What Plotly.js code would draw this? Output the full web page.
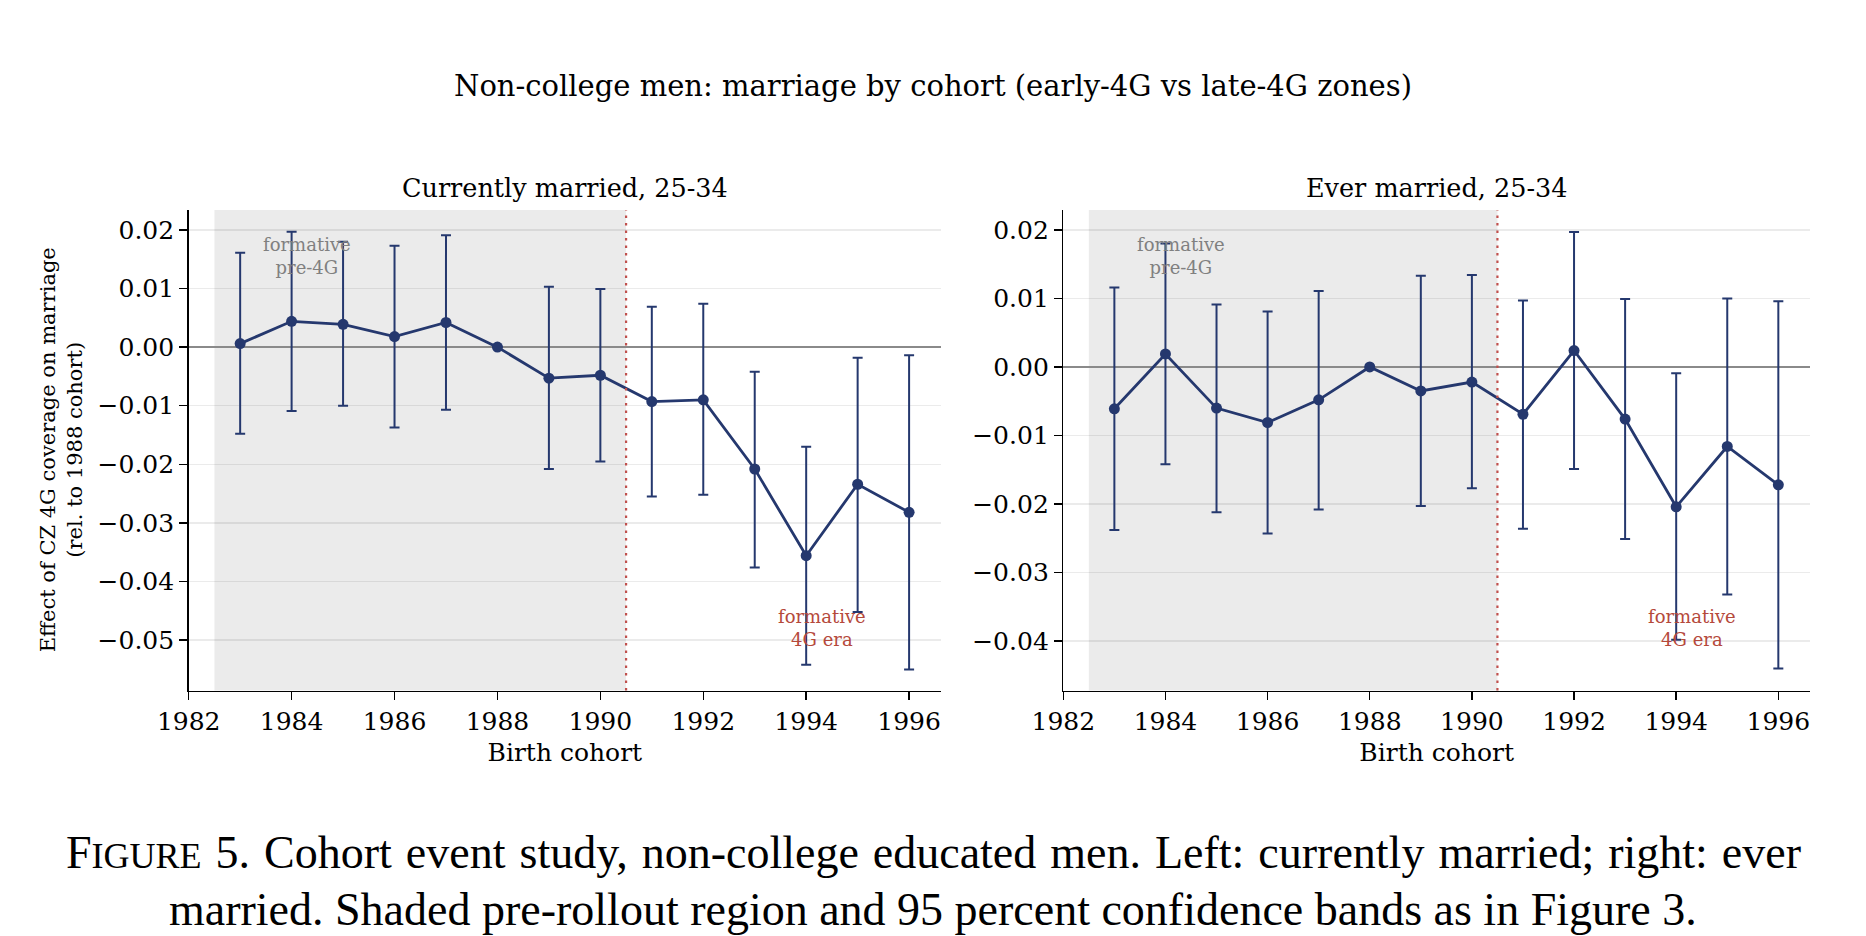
<!DOCTYPE html>
<html>
<head>
<meta charset="utf-8">
<script src="https://cdn.plot.ly/plotly-3.0.1.min.js"></script>
<style>
  html, body { margin: 0; padding: 0; background: #fff; }
  #chart { width: 1866px; height: 936px; }
</style>
</head>
<body>
<div id="chart"></div>
<script>
// birth cohorts (1988 = reference cohort, no interval)
let cohorts = [1983, 1984, 1985, 1986, 1987, 1988, 1989, 1990, 1991, 1992, 1993, 1994, 1995, 1996];

// currently married, 25-34
let cur_est = [0.0006, 0.0044, 0.0039, 0.0018, 0.0042, 0.0, -0.0053, -0.0048, -0.0093, -0.0090, -0.0208, -0.0356, -0.0234, -0.0282];
let cur_lo = [-0.0148, -0.0109, -0.0100, -0.0137, -0.0107, null, -0.0208, -0.0195, -0.0255, -0.0252, -0.0376, -0.0542, -0.0452, -0.0550];
let cur_hi = [0.0161, 0.0197, 0.0180, 0.0173, 0.0191, null, 0.0103, 0.0099, 0.0069, 0.0074, -0.0042, -0.0170, -0.0018, -0.0014];

// ever married, 25-34
let ever_est = [-0.0061, 0.0019, -0.0060, -0.0081, -0.0048, 0.0, -0.0035, -0.0022, -0.0069, 0.0024, -0.0076, -0.0204, -0.0116, -0.0172];
let ever_lo = [-0.0238, -0.0142, -0.0212, -0.0243, -0.0208, null, -0.0203, -0.0177, -0.0236, -0.0149, -0.0251, -0.0398, -0.0332, -0.0440];
let ever_hi = [0.0116, 0.0180, 0.0091, 0.0081, 0.0111, null, 0.0133, 0.0134, 0.0097, 0.0197, 0.0099, -0.0009, 0.0100, 0.0096];

let pre_start = 1982.5;
let rollout = 1990.5;

let navy = '#25386e';
let red = '#c0504d';
let serif = 'DejaVu Serif';

function band(est, lo, hi) {
  let up = [], down = [];
  for (let i = 0; i < est.length; ++i) {
    if (lo[i] === null) {
      up.push(null);
      down.push(null);
    } else {
      up.push(hi[i] - est[i]);
      down.push(est[i] - lo[i]);
    }
  }
  return { up: up, down: down };
}

function series(est, lo, hi, xa, ya) {
  let b = band(est, lo, hi);
  return {
    x: cohorts,
    y: est,
    xaxis: xa,
    yaxis: ya,
    type: 'scatter',
    mode: 'lines+markers',
    line: { color: navy, width: 2.8 },
    marker: { color: navy, size: 11 },
    error_y: {
      type: 'data',
      symmetric: false,
      array: b.up,
      arrayminus: b.down,
      color: navy,
      thickness: 2,
      width: 5,
    },
    showlegend: false,
  };
}

let data = [
  series(cur_est, cur_lo, cur_hi, 'x', 'y'),
  series(ever_est, ever_lo, ever_hi, 'x2', 'y2'),
];

let xbase = {
  range: [1982, 1996.62],
  tick0: 1982,
  dtick: 2,
  showgrid: false,
  zeroline: false,
  showline: true,
  linecolor: '#000',
  linewidth: 1.5,
  ticks: 'outside',
  ticklen: 8,
  tickwidth: 1.5,
  tickcolor: '#000',
  tickfont: { family: serif, size: 25, color: '#000' },
  title: { text: 'Birth cohort', font: { family: serif, size: 25, color: '#000' }, standoff: 8 },
};

let ybase = {
  tick0: 0,
  dtick: 0.01,
  tickformat: '.2f',
  showgrid: true,
  gridcolor: 'rgba(0,0,0,0.08)',
  gridwidth: 1.5,
  zeroline: true,
  zerolinecolor: '#8a8a8a',
  zerolinewidth: 1.3,
  showline: true,
  linecolor: '#000',
  linewidth: 1.5,
  ticks: 'outside',
  ticklen: 8,
  tickwidth: 1.5,
  tickcolor: '#000',
  tickfont: { family: serif, size: 25, color: '#000' },
};

let ydom = [1 - 690.5 / 936, 1 - 210 / 936];

function shade(xr, yr) {
  return {
    type: 'rect',
    xref: xr,
    yref: yr + ' domain',
    x0: pre_start,
    x1: rollout,
    y0: 0,
    y1: 1,
    fillcolor: '#ebebeb',
    layer: 'below',
    line: { width: 0 },
  };
}

function vline(xr, yr) {
  return {
    type: 'line',
    xref: xr,
    yref: yr + ' domain',
    x0: rollout,
    x1: rollout,
    y0: 0,
    y1: 1,
    line: { color: red, width: 2.2, dash: '2.5px,5px' },
  };
}

function notes(xr, yr, title) {
  return [
    {
      xref: xr + ' domain', yref: 'paper', x: 0.5, y: 1 - 188 / 936,
      text: title, showarrow: false, xanchor: 'center', yanchor: 'middle',
      font: { family: serif, size: 25.5, color: '#000' },
    },
    {
      xref: xr, yref: yr + ' domain', x: 1984.3, y: 0.904,
      text: 'formative<br>pre-4G', showarrow: false, xanchor: 'center', yanchor: 'middle',
      font: { family: serif, size: 18, color: '#808080' },
    },
    {
      xref: xr, yref: yr + ' domain', x: 1994.3, y: 0.13,
      text: 'formative<br>4G era', showarrow: false, xanchor: 'center', yanchor: 'middle',
      font: { family: serif, size: 18, color: '#b5493b' },
    },
  ];
}

let caption1 = '<span style="word-spacing:2.5px">F<span style="font-size:36px">IGURE</span> 5. Cohort event study, non-college educated men. Left: currently married; right: ever</span>';
let caption2 = 'married. Shaded pre-rollout region and 95 percent confidence bands as in Figure 3.';

let annotations = [
  {
    xref: 'paper', yref: 'paper', x: 0.5, y: 1 - 86 / 936,
    text: 'Non-college men: marriage by cohort (early-4G vs late-4G zones)',
    showarrow: false, xanchor: 'center', yanchor: 'middle',
    font: { family: serif, size: 29, color: '#000' },
  },
  {
    xref: 'paper', yref: 'y domain', x: 61 / 1866, y: 0.5,
    text: 'Effect of CZ 4G coverage on marriage<br>(rel. to 1988 cohort)',
    textangle: -90, showarrow: false, xanchor: 'center', yanchor: 'middle',
    font: { family: serif, size: 21, color: '#000' },
  },
  {
    xref: 'paper', yref: 'paper', x: 0.5, y: 1 - 852 / 936,
    text: caption1, showarrow: false, xanchor: 'center', yanchor: 'middle',
    font: { family: 'Liberation Serif', size: 46, color: '#000' },
  },
  {
    xref: 'paper', yref: 'paper', x: 0.5, y: 1 - 909 / 936,
    text: caption2, showarrow: false, xanchor: 'center', yanchor: 'middle',
    font: { family: 'Liberation Serif', size: 46, color: '#000' },
  },
].concat(notes('x', 'y', 'Currently married, 25-34'), notes('x2', 'y2', 'Ever married, 25-34'));

let layout = {
  width: 1866,
  height: 936,
  margin: { t: 0, r: 0, b: 0, l: 0 },
  paper_bgcolor: '#fff',
  plot_bgcolor: '#fff',
  font: { family: serif, color: '#000' },
  xaxis: { ...xbase, domain: [188.7 / 1866, 941 / 1866], anchor: 'y' },
  yaxis: { ...ybase, domain: ydom, anchor: 'x', range: [-0.0586, 0.0234] },
  xaxis2: { ...xbase, domain: [1063.3 / 1866, 1810 / 1866], anchor: 'y2' },
  yaxis2: { ...ybase, domain: ydom, anchor: 'x2', range: [-0.0472, 0.0229] },
  shapes: [shade('x', 'y'), shade('x2', 'y2'), vline('x', 'y'), vline('x2', 'y2')],
  annotations: annotations,
};

Plotly.newPlot('chart', data, layout, { staticPlot: true });
</script>
</body>
</html>
